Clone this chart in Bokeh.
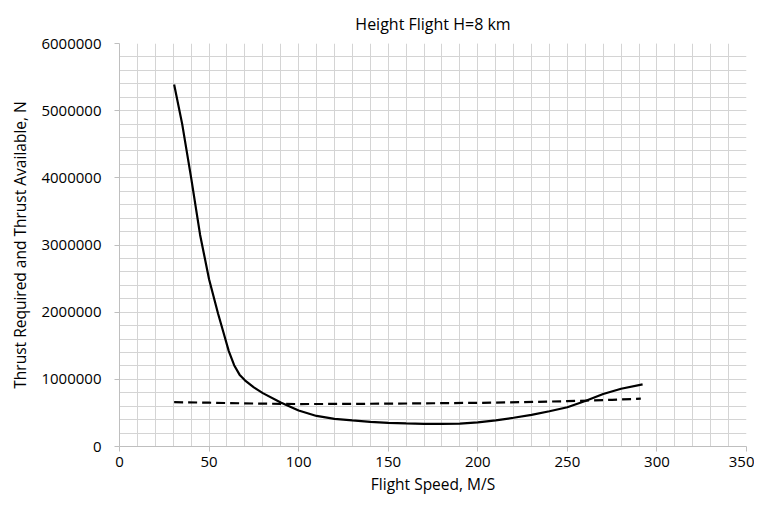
from bokeh.plotting import figure
from bokeh.models import SingleIntervalTicker, NumeralTickFormatter, Range1d
from bokeh.embed import file_html
from bokeh.resources import INLINE

# Thrust required (solid)
speed_req = [30.5, 35, 40, 45, 50, 55, 58, 61, 64, 67, 70, 75, 80, 90, 100, 110, 120,
             130, 140, 150, 160, 170, 180, 190, 200, 210, 220, 230, 240, 250, 260, 270,
             280, 292]
thrust_req = [5390000, 4800000, 4000000, 3150000, 2490000, 1980000, 1700000, 1420000,
              1210000, 1070000, 985000, 880000, 795000, 655000, 535000, 455000, 412000,
              388000, 368000, 353000, 343000, 338000, 337000, 342000, 360000, 388000,
              428000, 470000, 525000, 585000, 678000, 782000, 860000, 925000]

# Thrust available (dashed)
speed_av = [30.5, 50, 75, 100, 125, 150, 175, 200, 225, 250, 275, 291]
thrust_av = [660000, 652000, 640000, 632000, 634000, 638000, 644000, 650000, 660000,
             675000, 695000, 712000]

FONT = "Open Sans"

p = figure(width=754, height=498, output_backend="svg", toolbar_location=None,
           x_range=Range1d(0, 350), y_range=Range1d(0, 6000000),
           min_border_left=119, min_border_right=8, min_border_top=43, min_border_bottom=52,
           title="Height Flight H=8 km")

p.title.align = "center"
p.title.text_font = FONT
p.title.text_font_size = "16px"
p.title.text_font_style = "normal"
p.title.text_color = "#000000"
p.title.standoff = 17

p.outline_line_color = None

p.line(speed_req, thrust_req, line_color="black", line_width=2.2)
p.line(speed_av, thrust_av, line_color="black", line_width=2.2, line_dash="9 5")

p.xaxis.ticker = SingleIntervalTicker(interval=50, num_minor_ticks=5)
p.yaxis.ticker = SingleIntervalTicker(interval=1000000, num_minor_ticks=5)
p.yaxis.formatter = NumeralTickFormatter(format="0")

for ax in (p.xaxis[0], p.yaxis[0]):
    ax.axis_line_color = "#bfbfbf"
    ax.major_tick_line_color = "#bfbfbf"
    ax.major_tick_in = 0
    ax.major_tick_out = 5
    ax.minor_tick_line_color = None
    ax.major_label_text_font = FONT
    ax.major_label_text_font_size = "15px"
    ax.major_label_text_color = "#000000"
    ax.axis_label_text_font = FONT
    ax.axis_label_text_font_size = "15.5px"
    ax.axis_label_text_font_style = "normal"
    ax.axis_label_text_color = "#000000"

p.xaxis.major_label_standoff = 5
p.xaxis.axis_label_standoff = 3
p.yaxis.major_label_standoff = 13
p.yaxis.axis_label_standoff = 7

p.xaxis.axis_label = "Flight Speed, M/S"
p.yaxis.axis_label = "Thrust Required and Thrust Available, N"

for g in (p.xgrid[0], p.ygrid[0]):
    g.grid_line_color = "#d4d4d4"
    g.minor_grid_line_color = "#d4d4d4"
    g.grid_line_width = 1
    g.minor_grid_line_width = 1

open("out.html", "w").write(file_html(p, INLINE))
